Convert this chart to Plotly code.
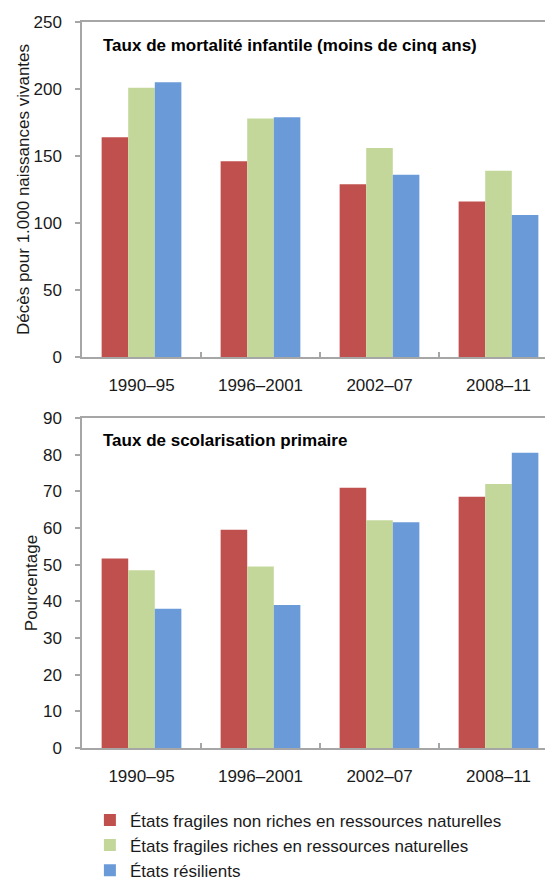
import plotly.graph_objects as go

categories = ["1990–95", "1996–2001", "2002–07", "2008–11"]
series_names = [
    "États fragiles non riches en ressources naturelles",
    "États fragiles riches en ressources naturelles",
    "États résilients",
]
mortality_red = [164, 146, 129, 116]
mortality_green = [201, 178, 156, 139]
mortality_blue = [205, 179, 136, 106]
school_red = [51.7, 59.5, 71.0, 68.5]
school_green = [48.5, 49.5, 62.1, 72.0]
school_blue = [38.0, 39.0, 61.6, 80.5]

colors = ["#C0504D", "#C4D79B", "#6A9BD8"]
FONT = "Liberation Sans, Arial, sans-serif"

fig = go.Figure()
for name, vals, col in zip(series_names, [mortality_red, mortality_green, mortality_blue], colors):
    fig.add_trace(go.Bar(x=categories, y=vals, name=name, marker=dict(color=col, line=dict(width=0)),
                         xaxis="x", yaxis="y", legendgroup=name))
for name, vals, col in zip(series_names, [school_red, school_green, school_blue], colors):
    fig.add_trace(go.Bar(x=categories, y=vals, name=name, marker=dict(color=col, line=dict(width=0)),
                         xaxis="x2", yaxis="y2", legendgroup=name, showlegend=False))

axis_common = dict(showline=True, mirror=True, linecolor="#A6A6A6", linewidth=1.5,
                   showgrid=False, zeroline=False)
xcommon = dict(tickson="boundaries", ticks="inside", ticklen=5, tickcolor="#A6A6A6", tickwidth=1.5,
               ticklabelstandoff=12, tickfont=dict(size=17))
ycommon = dict(ticks="outside", ticklen=5, tickcolor="#A6A6A6", tickwidth=1.5,
               ticklabelstandoff=10, tickfont=dict(size=17))
fig.update_layout(
    width=553, height=882,
    margin=dict(l=74, r=3, t=14, b=142, autoexpand=False),
    paper_bgcolor="white", plot_bgcolor="white",
    font=dict(family=FONT, size=16, color="#1a1a1a"),
    barmode="group", bargap=0.33, bargroupgap=0,
    showlegend=True,
    legend=dict(x=0.0166, y=-0.075, xanchor="left", yanchor="top", orientation="v",
                font=dict(size=17, family=FONT), itemwidth=30, tracegroupgap=0,
                bgcolor="rgba(0,0,0,0)"),
    xaxis=dict(domain=[0, 1], anchor="y", **xcommon, **axis_common),
    yaxis=dict(domain=[0.5386, 1.0], anchor="x", range=[0, 250], dtick=50, **ycommon,
               title=dict(text="Décès pour 1.000 naissances vivantes", standoff=0,
                          font=dict(size=17)), **axis_common),
    xaxis2=dict(domain=[0, 1], anchor="y2", **xcommon, **axis_common),
    yaxis2=dict(domain=[0, 0.4545], anchor="x2", range=[0, 90], dtick=10, **ycommon,
                title=dict(text="Pourcentage", standoff=1, font=dict(size=17)), **axis_common),
    annotations=[
        dict(text="<b>Taux de mortalité infantile (moins de cinq ans)</b>", xref="paper", yref="paper",
             x=0.04, y=0.967, xanchor="left", yanchor="middle", showarrow=False,
             font=dict(size=17, family=FONT, color="#000")),
        dict(text="<b>Taux de scolarisation primaire</b>", xref="paper", yref="paper",
             x=0.04, y=0.424, xanchor="left", yanchor="middle", showarrow=False,
             font=dict(size=17, family=FONT, color="#000")),
    ],
)
fig.write_html("out.html")
